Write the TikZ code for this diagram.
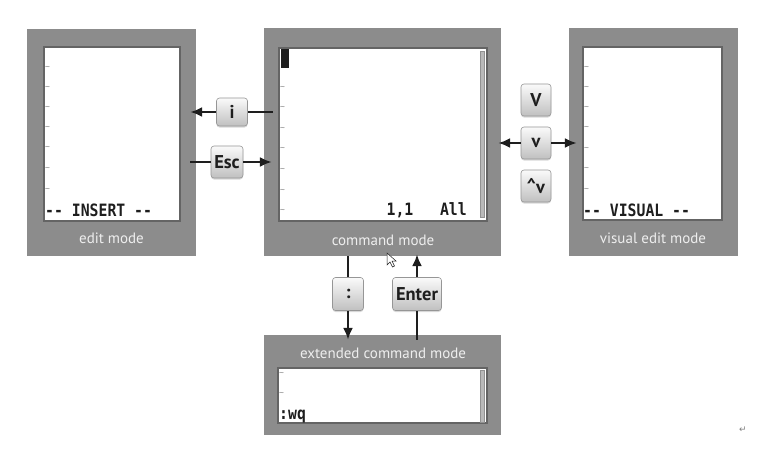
\documentclass[tikz,border=0pt]{standalone}
\usepackage{fontspec}
\usepackage{graphicx}
\setmainfont{PT Sans}
\setmonofont{DejaVu Sans Mono}
\newfontfamily\symfont{DejaVu Sans}
\usetikzlibrary{arrows.meta,shadows}
\definecolor{boxgray}{RGB}{140,140,140}
\definecolor{edgegray}{RGB}{100,100,100}
\definecolor{labelgray}{RGB}{238,238,238}
\definecolor{keytop}{RGB}{250,250,250}
\definecolor{keybot}{RGB}{192,192,192}
\definecolor{keyedge}{RGB}{150,150,150}
\definecolor{ink}{RGB}{30,30,30}
\definecolor{tildegray}{RGB}{130,130,130}
\definecolor{barfill}{RGB}{185,185,185}
\tikzset{
  outerbox/.style={rectangle, fill=boxgray, draw=none, inner sep=0pt},
  screen/.style={rectangle, fill=white, draw=edgegray, line width=1.2pt, inner sep=0pt},
  modelabel/.style={text=labelgray, font=\fontsize{15}{15}\selectfont, inner sep=0pt},
  keybox/.style={rectangle, rounded corners=3pt, draw=keyedge, line width=0.6pt,
    top color=keytop, bottom color=keybot, text=ink,
    font=\bfseries\fontsize{18.5}{18.5}\selectfont, inner sep=0pt,
    drop shadow={shadow xshift=0pt, shadow yshift=-1.5pt, opacity=0.3}},
  arr/.style={draw=ink, line width=2.3pt, -{Latex[length=12pt,width=10pt]}},
  plainline/.style={draw=ink, line width=2.3pt},
  tilde/.style={text=tildegray, font=\ttfamily\fontsize{8}{8}\selectfont, inner sep=0pt, anchor=west},
  status/.style={text=ink, font=\ttfamily\bfseries\fontsize{17}{17}\selectfont, inner sep=0pt},
  scrollbar/.style={rectangle, fill=barfill, draw=edgegray!70, line width=0.5pt, inner sep=0pt, minimum width=4pt}
}
\begin{document}
\begin{tikzpicture}[x=1pt,y=-1pt]
\fill[white] (0,0) rectangle (765,459);
\useasboundingbox (0,0) rectangle (765,459);

% ---------- boxes ----------
\node[outerbox, minimum width=169pt, minimum height=227pt] (insOuter) at (111.5,142.5) {};
\node[screen, minimum width=136pt, minimum height=174pt] (insInner) at (112,134) {};
\node[modelabel] (insLabel) at (111.5,238) {edit mode};

\node[outerbox, minimum width=237pt, minimum height=228pt] (cmdOuter) at (382.5,142) {};
\node[screen, minimum width=208pt, minimum height=173pt] (cmdInner) at (383,134.5) {};
\node[modelabel] (cmdLabel) at (383,240) {command mode};

\node[outerbox, minimum width=169pt, minimum height=228pt] (visOuter) at (653.5,142) {};
\node[screen, minimum width=139pt, minimum height=173pt] (visInner) at (652.5,133.5) {};
\node[modelabel] (visLabel) at (653,238) {visual edit mode};

\node[outerbox, minimum width=237pt, minimum height=100pt] (extOuter) at (382.5,385) {};
\node[screen, minimum width=209pt, minimum height=55pt] (extInner) at (382.5,395.5) {};
\node[modelabel] (extLabel) at (383,353) {extended command mode};

% ---------- screen contents ----------
\foreach \yy [count=\k] in {68,88,108,128,148,169,190}
  \node[tilde] (insT\k) at (45,\yy) {\char`\~};
\foreach \yy [count=\k] in {88,108,129,149,170,191,211}
  \node[tilde] (cmdT\k) at (280,\yy) {\char`\~};
\foreach \yy [count=\k] in {68,88,108,128,149,169,190}
  \node[tilde] (visT\k) at (584,\yy) {\char`\~};
\foreach \yy [count=\k] in {374,394}
  \node[tilde] (extT\k) at (279,\yy) {\char`\~};

\node[status, anchor=west] (insStatus) at (45,210) {\scalebox{0.87}[1]{-- INSERT --}};
\node[status, anchor=west] (visStatus) at (583,210) {\scalebox{0.87}[1]{-- VISUAL --}};
\node[status, anchor=east] (cmdStatus) at (467,210) {\scalebox{0.87}[1]{1,1\ \ \ All}};
\node[status, anchor=west] (extStatus) at (279,416) {\scalebox{0.87}[1]{:wq}};

\node[rectangle, fill=ink, inner sep=0pt, minimum width=8pt, minimum height=19pt] (cursor) at (285,58.5) {};
\node[scrollbar, minimum height=166pt] (cmdBar) at (482,134) {};
\node[scrollbar, minimum height=52pt] (extBar) at (482,396) {};

% ---------- keys ----------
\node[keybox, minimum width=31pt, minimum height=28pt] (iKey) at (232,112) {i};
\node[keybox, minimum width=32pt, minimum height=32pt] (escKey) at (227,162) {Esc};
\node[keybox, minimum width=30pt, minimum height=32pt] (VKey) at (536,100) {V};
\node[keybox, minimum width=30pt, minimum height=32pt] (vKey) at (536,143) {v};
\node[keybox, minimum width=30pt, minimum height=32pt] (cvKey) at (536,186) {\raisebox{2pt}{\^{}}v};
\node[keybox, minimum width=31pt, minimum height=33pt] (colonKey) at (348,294) {:};
\node[keybox, minimum width=49pt, minimum height=33pt] (enterKey) at (417,294) {Enter};

% ---------- connectors ----------
\draw[plainline] ([xshift=9pt]cmdOuter.west |- iKey.center) -- (iKey.east);
\draw[arr] (iKey.west) -- ([xshift=-6pt]insOuter.east |- iKey.center);

\draw[plainline] ([xshift=-6pt]insOuter.east |- escKey.center) -- (escKey.west);
\draw[arr] (escKey.east) -- ([xshift=8pt]cmdOuter.west |- escKey.center);

\draw[arr] (vKey.west) -- ([xshift=-3pt]cmdOuter.east |- vKey.center);
\draw[arr] (vKey.east) -- ([xshift=8pt]visOuter.west |- vKey.center);

\draw[plainline] (cmdOuter.south -| colonKey.center) -- (colonKey.north);
\draw[arr] (colonKey.south) -- ([yshift=-5pt]extOuter.north -| colonKey.center);

\draw[plainline] ([yshift=-5pt]extOuter.north -| enterKey.center) -- (enterKey.south);
\draw[arr] (enterKey.north) -- ([yshift=2pt]cmdOuter.south -| enterKey.center);

% ---------- screenshot artefacts ----------
\coordinate (mouse) at (387,253);
\draw[fill=white, draw=ink, line width=0.5pt]
  (mouse) -- ++(0,12) -- ++(3,-3) -- ++(2.5,5) -- ++(2,-1) -- ++(-2.5,-5) -- ++(4,0) -- cycle;
\node[text=gray, font=\symfont\fontsize{9}{9}\selectfont, inner sep=0pt] (para) at (743,430) {↵};
\end{tikzpicture}
\end{document}
